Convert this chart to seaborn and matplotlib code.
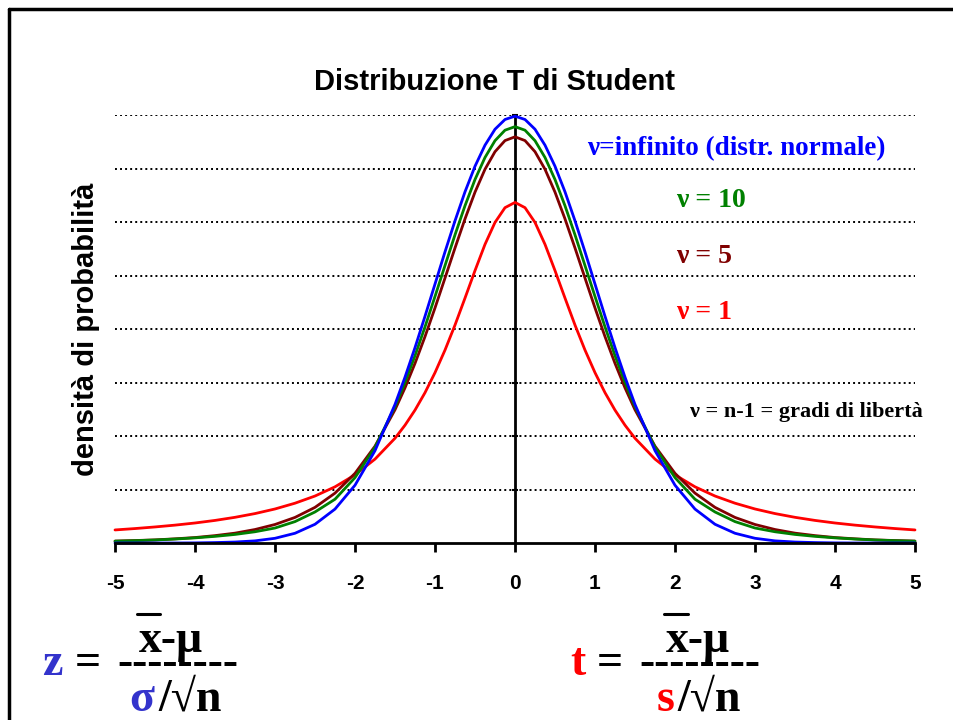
import numpy as np
import pandas as pd
import seaborn as sns
import matplotlib.pyplot as plt
from matplotlib.lines import Line2D

# ---------------- data ----------------
x_values = [-5.0, -4.75, -4.5, -4.25, -4.0, -3.75, -3.5, -3.25, -3.0, -2.75,
            -2.5, -2.25, -2.0, -1.75, -1.5, -1.375, -1.25, -1.125, -1.0, -0.875,
            -0.75, -0.625, -0.5, -0.375, -0.25, -0.125,
            0.0, 0.125, 0.25, 0.375, 0.5, 0.625, 0.75, 0.875, 1.0, 1.125,
            1.25, 1.375, 1.5, 1.75, 2.0, 2.25,
            2.5, 2.75, 3.0, 3.25, 3.5, 3.75, 4.0, 4.25, 4.5, 4.75, 5.0]

dens_normale = [0.0000, 0.0000, 0.0000, 0.0000, 0.0001, 0.0004, 0.0009, 0.0020, 0.0044, 0.0091,
                0.0175, 0.0317, 0.0540, 0.0863, 0.1295, 0.1550, 0.1826, 0.2119, 0.2420, 0.2721,
                0.3011, 0.3282, 0.3521, 0.3718, 0.3867, 0.3958,
                0.3989, 0.3958, 0.3867, 0.3718, 0.3521, 0.3282, 0.3011, 0.2721, 0.2420, 0.2119,
                0.1826, 0.1550, 0.1295, 0.0863, 0.0540, 0.0317,
                0.0175, 0.0091, 0.0044, 0.0020, 0.0009, 0.0004, 0.0001, 0.0000, 0.0000, 0.0000, 0.0000]

dens_nu10 = [0.0017, 0.0022, 0.0028, 0.0037, 0.0048, 0.0062, 0.0080, 0.0105, 0.0140, 0.0200,
             0.0290, 0.0409, 0.0611, 0.0895, 0.1274, 0.1501, 0.1751, 0.2020, 0.2304, 0.2593,
             0.2880, 0.3152, 0.3397, 0.3603, 0.3760, 0.3858,
             0.3891, 0.3858, 0.3760, 0.3603, 0.3397, 0.3152, 0.2880, 0.2593, 0.2304, 0.2020,
             0.1751, 0.1501, 0.1274, 0.0895, 0.0611, 0.0409,
             0.0290, 0.0200, 0.0140, 0.0105, 0.0080, 0.0062, 0.0048, 0.0037, 0.0028, 0.0022, 0.0017]

dens_nu5 = [0.0018, 0.0023, 0.0029, 0.0039, 0.0051, 0.0069, 0.0092, 0.0126, 0.0173, 0.0239,
            0.0333, 0.0466, 0.0651, 0.0905, 0.1245, 0.1450, 0.1679, 0.1929, 0.2197, 0.2476,
            0.2757, 0.3029, 0.3279, 0.3493, 0.3657, 0.3761,
            0.3796, 0.3761, 0.3657, 0.3493, 0.3279, 0.3029, 0.2757, 0.2476, 0.2197, 0.1929,
            0.1679, 0.1450, 0.1245, 0.0905, 0.0651, 0.0466,
            0.0333, 0.0239, 0.0173, 0.0126, 0.0092, 0.0069, 0.0051, 0.0039, 0.0029, 0.0023, 0.0018]

dens_nu1 = [0.0122, 0.0135, 0.0150, 0.0167, 0.0187, 0.0211, 0.0240, 0.0275, 0.0318, 0.0372,
            0.0439, 0.0525, 0.0637, 0.0784, 0.0979, 0.1101, 0.1242, 0.1405, 0.1592, 0.1803,
            0.2037, 0.2289, 0.2546, 0.2791, 0.2996, 0.3134,
            0.3183, 0.3134, 0.2996, 0.2791, 0.2546, 0.2289, 0.2037, 0.1803, 0.1592, 0.1405,
            0.1242, 0.1101, 0.0979, 0.0784, 0.0637, 0.0525,
            0.0439, 0.0372, 0.0318, 0.0275, 0.0240, 0.0211, 0.0187, 0.0167, 0.0150, 0.0135, 0.0122]

series_names = ["nu1", "nu5", "nu10", "normale"]
series_colors = ["#FF0000", "#800000", "#008000", "#0000FF"]
x_ticks = [-5, -4, -3, -2, -1, 0, 1, 2, 3, 4, 5]
x_tick_labels = ["-5", "-4", "-3", "-2", "-1", "0", "1", "2", "3", "4", "5"]
grid_levels = [0.05, 0.10, 0.15, 0.20, 0.25, 0.30, 0.35, 0.40]

title_text = "Distribuzione T di Student"
ylabel_text = "densità di probabilità"

# ---------------- build long table ----------------
series_values = {"nu1": dens_nu1, "nu5": dens_nu5, "nu10": dens_nu10, "normale": dens_normale}
rows = []
for name in series_names:
    for xv, yv in zip(x_values, series_values[name]):
        rows.append({"x": xv, "densita": yv, "serie": name})
df = pd.DataFrame(rows)

sns.set_theme(style="white")
plt.rcParams["font.family"] = ["Liberation Sans", "DejaVu Sans"]
plt.rcParams["axes.unicode_minus"] = False

W, H = 954, 720
fig = plt.figure(figsize=(W / 100, H / 100), dpi=100)
fig.patch.set_facecolor("white")


def fx(px):
    return px / W


def fy(py):
    return 1 - py / H


ax = fig.add_axes([fx(115), fy(543), fx(915) - fx(115), fy(115) - fy(543)])
ax.set_facecolor("white")

sns.lineplot(data=df, x="x", y="densita", hue="serie", hue_order=series_names,
             palette=dict(zip(series_names, series_colors)), legend=False,
             linewidth=2.0, ax=ax, sort=False, estimator=None)
for ln in ax.lines:
    ln.set_clip_on(False)
    ln.set_zorder(3)

ax.set_xlim(-5, 5)
ax.set_ylim(0, 0.4)
ax.set_xlabel("")
ax.set_ylabel("")

# grid (dotted)
ax.set_yticks(grid_levels)
ax.grid(False)
for g in grid_levels:
    ax.axhline(g, color="black", linewidth=1.4, linestyle=(0, (1.0, 1.6)), zorder=1)

# spines
for s in ["top", "right"]:
    ax.spines[s].set_visible(False)
ax.spines["bottom"].set_color("black")
ax.spines["bottom"].set_linewidth(2.0)
ax.spines["bottom"].set_zorder(4)
ax.spines["left"].set_position(("data", 0))
ax.spines["left"].set_color("black")
ax.spines["left"].set_linewidth(2.0)
ax.spines["left"].set_zorder(2)

ax.tick_params(axis="y", left=True, labelleft=False, direction="inout", length=5,
               width=1.5, color="black")
ax.set_xticks(x_ticks)
ax.set_xticklabels(x_tick_labels)
ax.tick_params(axis="x", bottom=True, direction="out", length=6.5, width=2.0,
               color="black", pad=16, labelsize=15)
for lbl in ax.get_xticklabels():
    lbl.set_fontweight("bold")
    lbl.set_color("black")

# title and y label
fig.text(fx(495), fy(90), title_text, ha="center", va="baseline",
         fontsize=21, fontweight="bold", color="black")
fig.text(fx(86), fy(329), ylabel_text, ha="center", va="center", rotation=90,
         fontsize=21, fontweight="bold", color="black")

# curve annotations
serif = ["Liberation Serif", "DejaVu Serif"]
fig.text(fx(587), fy(155), "ν=infinito (distr. normale)", ha="left", va="baseline",
         fontsize=19.5, fontweight="bold", color="#0000FF", family=serif)
fig.text(fx(676), fy(207), "ν = 10", ha="left", va="baseline",
         fontsize=20, fontweight="bold", color="#008000", family=serif)
fig.text(fx(676), fy(263), "ν = 5", ha="left", va="baseline",
         fontsize=20, fontweight="bold", color="#800000", family=serif)
fig.text(fx(676), fy(319), "ν = 1", ha="left", va="baseline",
         fontsize=20, fontweight="bold", color="#FF0000", family=serif)
fig.text(fx(690), fy(417), "ν = n-1 = gradi di libertà", ha="left", va="baseline",
         fontsize=16, fontweight="bold", color="black", family=serif)

# formulas
fs = 33
def ftext(x, y, s, color="black", ha="center"):
    fig.text(fx(x), fy(y), s, ha=ha, va="baseline", fontsize=fs, fontweight="bold",
             color=color, family=serif)

# left: z
ftext(52, 675, "z", color="#3333CC")
ftext(88, 675, "=")
ftext(178, 675, "--------")
ftext(171, 652, "x-μ")
fig.add_artist(Line2D([fx(137), fx(160)], [fy(614), fy(614)], transform=fig.transFigure,
                      color="black", linewidth=2.2))
ftext(142, 711, "σ", color="#3333CC")
ftext(158, 711, "/√n", ha="left")

# right: t
ftext(578, 675, "t", color="#FF0000")
ftext(610, 675, "=")
ftext(700, 675, "--------")
ftext(698, 652, "x-μ")
fig.add_artist(Line2D([fx(664), fx(688)], [fy(614), fy(614)], transform=fig.transFigure,
                      color="black", linewidth=2.2))
ftext(666, 711, "s", color="#FF0000")
ftext(677, 711, "/√n", ha="left")

# slide border (left and top)
fig.add_artist(Line2D([fx(9), fx(9)], [fy(9), -0.05], transform=fig.transFigure,
                      color="black", linewidth=2.5))
fig.add_artist(Line2D([fx(9), 1.05], [fy(9), fy(9)], transform=fig.transFigure,
                      color="black", linewidth=2.5))

fig.savefig("out.png", dpi=100, facecolor="white")
